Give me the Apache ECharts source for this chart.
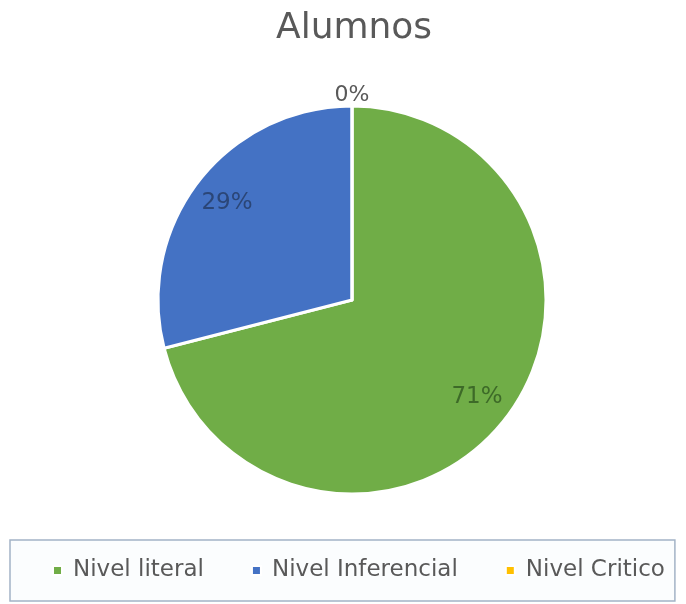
<!DOCTYPE html>
<html>
<head>
<meta charset="utf-8">
<script src="https://cdn.jsdelivr.net/npm/echarts@6/dist/echarts.min.js"></script>
<style>
html,body{margin:0;padding:0;background:#fff;}
#chart{width:686px;height:604px;}
</style>
</head>
<body>
<div id="chart"></div>
<script>
const titleText = 'Alumnos';
const categories = ['Nivel literal', 'Nivel Inferencial', 'Nivel Critico'];
const values = [71, 29, 0];
const colors = ['#70ad47', '#4472c4', '#ffc000'];
const labelColors = ['#3d6a28', '#2b4677', '#595959'];

const FONT = '"DejaVu Sans", sans-serif';
const chart = echarts.init(document.getElementById('chart'), null, {renderer: 'canvas'});

const CENTER = [352, 300];
const R = 194;

const mainData = categories.map((c, i) => ({
  name: c, value: values[i], itemStyle: {color: colors[i]}
}));
// inner labels (non-zero slices) at ~0.8 of the radius
const innerLabelData = categories.map((c, i) => ({
  name: c, value: values[i], itemStyle: {color: 'rgba(0,0,0,0)'},
  label: {show: values[i] !== 0, color: labelColors[i]}
}));
// label for zero slice, just outside the pie rim
const outerLabelData = categories.map((c, i) => ({
  name: c, value: values[i], itemStyle: {color: 'rgba(0,0,0,0)'},
  label: {show: values[i] === 0, color: labelColors[i]}
}));

const common = {
  type: 'pie', center: CENTER, startAngle: 90, clockwise: true,
  labelLine: {show: false}, emphasis: {disabled: true}, silent: true
};

chart.setOption({
  animation: false,
  title: {
    text: titleText, left: 271, top: 6,
    textStyle: {fontFamily: FONT, fontSize: 36, fontWeight: 'normal', color: '#595959'}
  },
  legend: {
    data: categories.map((c, i) => ({name: c, itemStyle: {color: colors[i]}})),
    left: 10, top: 540, orient: 'horizontal',
    icon: 'rect', itemWidth: 9, itemHeight: 9, itemGap: 47,
    padding: [19, 10, 19, 42],
    borderColor: '#a3b3c6', borderWidth: 1.5, backgroundColor: '#fbfdfe',
    textStyle: {fontFamily: FONT, fontSize: 23, color: '#595959', padding: [0, 0, 0, 6]},
    selectedMode: false
  },
  series: [
    Object.assign({}, common, {
      radius: [0, R], data: mainData, label: {show: false},
      itemStyle: {borderColor: '#ffffff', borderWidth: 3}
    }),
    Object.assign({}, common, {
      radius: [R * 0.6, R], data: innerLabelData,
      label: {position: 'inside', formatter: '{d}%', fontFamily: FONT, fontSize: 23}
    }),
    Object.assign({}, common, {
      radius: [R, R + 16], data: outerLabelData,
      label: {position: 'inside', formatter: '{d}%', fontFamily: FONT, fontSize: 22}
    })
  ]
});
</script>
</body>
</html>
